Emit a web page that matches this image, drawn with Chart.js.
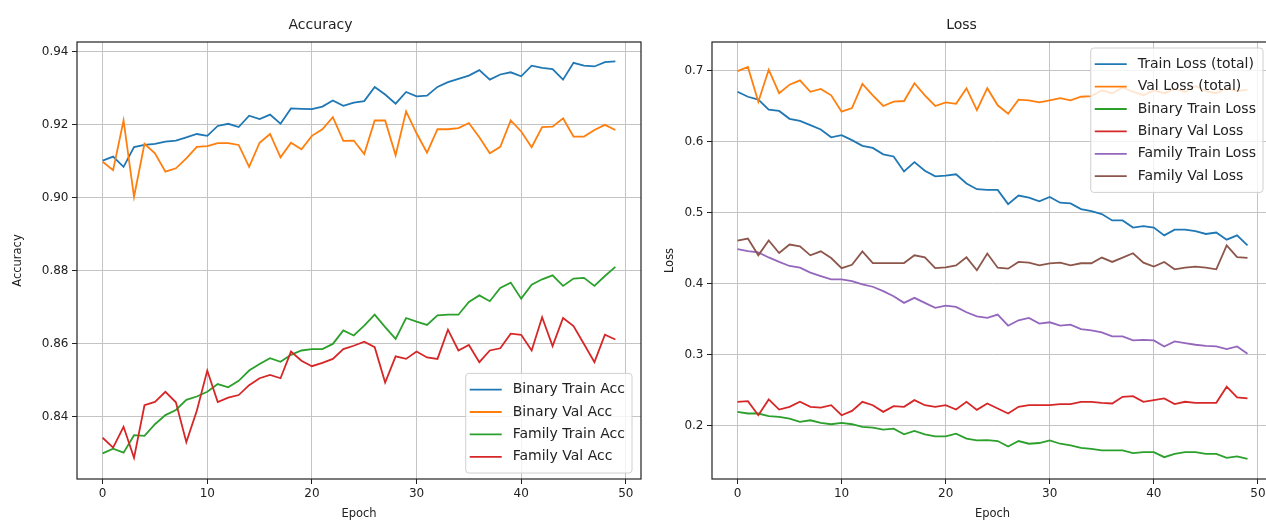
<!DOCTYPE html>
<html>
<head>
<meta charset="utf-8">
<title>Accuracy / Loss</title>
<script src="https://cdn.jsdelivr.net/npm/chart.js"></script>
<style>
  body { margin: 0; background: #fff; overflow: hidden; }
  #wrap { position: relative; width: 1266px; height: 524px; overflow: hidden; }
  canvas { position: absolute; top: 0; }
  #accChart { left: 0; }
  #lossChart { left: 650px; }
</style>
</head>
<body>
<div id="wrap">
  <canvas id="accChart" width="650" height="524"></canvas>
  <canvas id="lossChart" width="630" height="524"></canvas>
</div>
<script>
// --- Data
const epochs = [0, 1, 2, 3, 4, 5, 6, 7, 8, 9, 10, 11, 12, 13, 14, 15, 16, 17, 18, 19,
  20, 21, 22, 23, 24, 25, 26, 27, 28, 29, 30, 31, 32, 33, 34, 35, 36, 37, 38, 39,
  40, 41, 42, 43, 44, 45, 46, 47, 48, 49];
const epochTicks = [0, 10, 20, 30, 40, 50];
const accTicks = [0.84, 0.86, 0.88, 0.90, 0.92, 0.94];
const lossTicks = [0.2, 0.3, 0.4, 0.5, 0.6, 0.7];

const binaryTrainAcc = [0.9102, 0.9113, 0.9085, 0.9139, 0.9145, 0.9148, 0.9154, 0.9157, 0.9166, 0.9175,
  0.9170, 0.9197, 0.9203, 0.9194, 0.9225, 0.9216, 0.9228, 0.9203, 0.9245, 0.9244,
  0.9243, 0.9250, 0.9267, 0.9252, 0.9261, 0.9265, 0.9304, 0.9283, 0.9258, 0.9290,
  0.9278, 0.9280, 0.9304, 0.9317, 0.9326, 0.9335, 0.9350, 0.9324, 0.9338, 0.9344,
  0.9333, 0.9362, 0.9356, 0.9353, 0.9324, 0.9370, 0.9362, 0.9360, 0.9372, 0.9374];
const binaryValAcc = [0.9099, 0.9076, 0.9212, 0.9003, 0.9148, 0.9122, 0.9072, 0.9081, 0.9108, 0.9140,
  0.9142, 0.9150, 0.9150, 0.9145, 0.9085, 0.9151, 0.9175, 0.9111, 0.9151, 0.9133,
  0.9170, 0.9188, 0.9221, 0.9156, 0.9157, 0.9120, 0.9212, 0.9212, 0.9117, 0.9237,
  0.9177, 0.9124, 0.9188, 0.9188, 0.9191, 0.9205, 0.9166, 0.9122, 0.9140, 0.9212,
  0.9182, 0.9139, 0.9194, 0.9195, 0.9218, 0.9168, 0.9168, 0.9186, 0.9200, 0.9186];
const familyTrainAcc = [0.8300, 0.8313, 0.8302, 0.8350, 0.8348, 0.8380, 0.8405, 0.8419, 0.8447, 0.8456,
  0.8469, 0.8490, 0.8481, 0.8499, 0.8527, 0.8545, 0.8561, 0.8551, 0.8570, 0.8582,
  0.8586, 0.8586, 0.8600, 0.8637, 0.8623, 0.8650, 0.8680, 0.8646, 0.8614, 0.8671,
  0.8661, 0.8652, 0.8678, 0.8680, 0.8680, 0.8715, 0.8733, 0.8717, 0.8753, 0.8768,
  0.8724, 0.8762, 0.8777, 0.8788, 0.8759, 0.8779, 0.8781, 0.8759, 0.8786, 0.8811];
const familyValAcc = [0.8343, 0.8316, 0.8373, 0.8288, 0.8432, 0.8441, 0.8469, 0.8440, 0.8331, 0.8417,
  0.8527, 0.8441, 0.8453, 0.8460, 0.8487, 0.8506, 0.8515, 0.8506, 0.8579, 0.8554,
  0.8539, 0.8548, 0.8559, 0.8586, 0.8595, 0.8606, 0.8591, 0.8494, 0.8566, 0.8559,
  0.8579, 0.8563, 0.8559, 0.8639, 0.8582, 0.8597, 0.8550, 0.8582, 0.8588, 0.8628,
  0.8625, 0.8582, 0.8673, 0.8594, 0.8671, 0.8649, 0.8600, 0.8550, 0.8625, 0.8612];

const trainLoss = [0.670, 0.663, 0.659, 0.645, 0.643, 0.632, 0.629, 0.623, 0.617, 0.606,
  0.609, 0.602, 0.594, 0.591, 0.582, 0.579, 0.558, 0.571, 0.559, 0.551,
  0.552, 0.554, 0.541, 0.533, 0.532, 0.532, 0.512, 0.524, 0.521, 0.516,
  0.522, 0.514, 0.513, 0.505, 0.502, 0.498, 0.489, 0.489, 0.479, 0.481,
  0.479, 0.468, 0.476, 0.476, 0.474, 0.470, 0.472, 0.462, 0.468, 0.454];
const valLoss = [0.699, 0.705, 0.656, 0.701, 0.668, 0.680, 0.686, 0.670, 0.674, 0.665,
  0.642, 0.647, 0.681, 0.665, 0.650, 0.656, 0.657, 0.682, 0.665, 0.650,
  0.655, 0.653, 0.675, 0.644, 0.675, 0.651, 0.639, 0.659, 0.658, 0.655,
  0.658, 0.661, 0.658, 0.663, 0.664, 0.672, 0.668, 0.676, 0.670, 0.665,
  0.672, 0.668, 0.674, 0.670, 0.678, 0.671, 0.668, 0.675, 0.671, 0.673];
const binaryTrainLoss = [0.2198, 0.2175, 0.2175, 0.2137, 0.2127, 0.2104, 0.2057, 0.2080, 0.2042, 0.2024,
  0.2042, 0.2024, 0.1986, 0.1976, 0.1948, 0.1962, 0.1882, 0.1929, 0.1882, 0.1854,
  0.1854, 0.1891, 0.1821, 0.1797, 0.1802, 0.1788, 0.1712, 0.1788, 0.1750, 0.1760,
  0.1797, 0.1750, 0.1726, 0.1693, 0.1679, 0.1656, 0.1656, 0.1656, 0.1618, 0.1632,
  0.1632, 0.1561, 0.1608, 0.1632, 0.1632, 0.1608, 0.1608, 0.1552, 0.1571, 0.1538];
const binaryValLoss = [0.2340, 0.2349, 0.2151, 0.2373, 0.2231, 0.2269, 0.2340, 0.2269, 0.2259, 0.2292,
  0.2151, 0.2212, 0.2340, 0.2292, 0.2198, 0.2278, 0.2269, 0.2363, 0.2292, 0.2269,
  0.2292, 0.2231, 0.2340, 0.2226, 0.2316, 0.2245, 0.2175, 0.2269, 0.2292, 0.2292,
  0.2292, 0.2307, 0.2307, 0.2340, 0.2340, 0.2325, 0.2316, 0.2410, 0.2420, 0.2340,
  0.2363, 0.2387, 0.2307, 0.2340, 0.2325, 0.2325, 0.2325, 0.2552, 0.2401, 0.2387];
const familyTrainLoss = [0.4486, 0.4460, 0.4440, 0.4370, 0.4307, 0.4250, 0.4226, 0.4156, 0.4108, 0.4061,
  0.4061, 0.4038, 0.3990, 0.3958, 0.3896, 0.3825, 0.3731, 0.3802, 0.3731, 0.3660,
  0.3693, 0.3675, 0.3599, 0.3542, 0.3519, 0.3566, 0.3410, 0.3486, 0.3519, 0.3439,
  0.3458, 0.3410, 0.3425, 0.3363, 0.3344, 0.3316, 0.3259, 0.3259, 0.3203, 0.3212,
  0.3203, 0.3118, 0.3189, 0.3165, 0.3142, 0.3127, 0.3118, 0.3080, 0.3118, 0.3014];
const familyValLoss = [0.4608, 0.4636, 0.4400, 0.4608, 0.4433, 0.4551, 0.4527, 0.4400, 0.4456, 0.4362,
  0.4220, 0.4267, 0.4456, 0.4291, 0.4291, 0.4291, 0.4291, 0.4400, 0.4371, 0.4220,
  0.4229, 0.4258, 0.4371, 0.4190, 0.4425, 0.4226, 0.4212, 0.4307, 0.4297, 0.4259,
  0.4288, 0.4297, 0.4259, 0.4288, 0.4288, 0.4368, 0.4307, 0.4368, 0.4429, 0.4297,
  0.4241, 0.4307, 0.4203, 0.4226, 0.4241, 0.4226, 0.4203, 0.4540, 0.4375, 0.4365];

// matplotlib tab10 colours
const C = { blue: '#1f77b4', orange: '#ff7f0e', green: '#2ca02c', red: '#d62728', purple: '#9467bd', brown: '#8c564b' };

Chart.defaults.font.family = '"DejaVu Sans", sans-serif';
Chart.defaults.color = '#222';

// frame on all four sides + a matplotlib-like legend drawn inside the axes
const axesDecor = {
  id: 'axesDecor',
  afterDatasetsDraw(chart, args, opts) {
    const ctx = chart.ctx, a = chart.chartArea;
    ctx.save();
    ctx.strokeStyle = '#222';
    ctx.lineWidth = 1.2;
    ctx.strokeRect(a.left, a.top, a.right - a.left, a.bottom - a.top);

    const sets = chart.data.datasets;
    ctx.font = opts.fontSize + 'px "DejaVu Sans"';
    let textW = 0;
    sets.forEach(function (ds) { textW = Math.max(textW, ctx.measureText(ds.label).width); });
    const rowH = 22.4, pad = 5, handle = 32;
    const w = 4 + handle + 11 + textW + 7;
    const h = sets.length * rowH + 2 * pad;
    const x = a.right - opts.insetX - w;
    const y = opts.corner === 'bottom' ? a.bottom - opts.insetY - h : a.top + opts.insetY;

    ctx.beginPath();
    if (ctx.roundRect) ctx.roundRect(x, y, w, h, 3); else ctx.rect(x, y, w, h);
    ctx.fillStyle = 'rgba(255,255,255,0.8)';
    ctx.fill();
    ctx.strokeStyle = '#d0d0d0';
    ctx.lineWidth = 1;
    ctx.stroke();

    ctx.textBaseline = 'middle';
    sets.forEach(function (ds, i) {
      const cy = y + pad + rowH * (i + 0.5);
      ctx.strokeStyle = ds.borderColor;
      ctx.lineWidth = ds.borderWidth;
      ctx.beginPath();
      ctx.moveTo(x + 4, cy);
      ctx.lineTo(x + 4 + handle, cy);
      ctx.stroke();
      ctx.fillStyle = '#222';
      ctx.fillText(ds.label, x + 4 + handle + 11, cy);
    });
    ctx.restore();
  }
};

function makeChart(id, title, yTitle, yMin, yMax, yTicks, decimals, series, yWidth, yTitlePad, legend) {
  const n = series.length;
  return new Chart(document.getElementById(id), {
    type: 'line',
    data: {
      datasets: series.map(function (s, i) {
        return {
          label: s.label,
          data: s.data.map(function (v, k) { return { x: epochs[k], y: v }; }),
          borderColor: s.color,
          backgroundColor: s.color,
          borderWidth: 1.8,
          pointRadius: 0,
          tension: 0,
          order: n - i
        };
      })
    },
    plugins: [axesDecor],
    options: {
      responsive: false,
      animation: false,
      layout: { padding: { left: 0, right: id === 'accChart' ? 9 : 7, top: 0, bottom: 0 } },
      plugins: {
        legend: { display: false },
        tooltip: { enabled: false },
        title: {
          display: true, text: title, color: '#222',
          font: { size: 14, weight: 'normal' },
          padding: { top: 17, bottom: 8.2 }
        },
        axesDecor: legend
      },
      scales: {
        x: {
          type: 'linear', min: -2.45, max: 51.45,
          afterBuildTicks: function (scale) { scale.ticks = epochTicks.map(function (v) { return { value: v }; }); },
          afterFit: function (scale) { scale.height = 45; },
          border: { display: false },
          grid: { color: '#c4c4c4', lineWidth: 1, tickLength: 5, tickColor: '#222', tickWidth: 1 },
          ticks: { font: { size: 12 }, padding: 3, maxRotation: 0, autoSkip: false },
          title: { display: true, text: 'Epoch', font: { size: 11.5 }, padding: { top: 0, bottom: 3 } }
        },
        y: {
          min: yMin, max: yMax,
          afterBuildTicks: function (scale) { scale.ticks = yTicks.map(function (v) { return { value: v }; }); },
          afterFit: function (scale) { scale.width = yWidth; },
          border: { display: false },
          grid: { color: '#c4c4c4', lineWidth: 1, tickLength: 5, tickColor: '#222', tickWidth: 1 },
          ticks: {
            font: { size: 12 }, padding: 3.5, autoSkip: false,
            callback: function (v) { return Number(v).toFixed(decimals); }
          },
          title: { display: true, text: yTitle, font: { size: 11.5 }, padding: { top: yTitlePad, bottom: 0 } }
        }
      }
    }
  });
}

makeChart('accChart', 'Accuracy', 'Accuracy', 0.8230, 0.9427, accTicks, 2, [
  { label: 'Binary Train Acc', data: binaryTrainAcc, color: C.blue },
  { label: 'Binary Val Acc', data: binaryValAcc, color: C.orange },
  { label: 'Family Train Acc', data: familyTrainAcc, color: C.green },
  { label: 'Family Val Acc', data: familyValAcc, color: C.red }
], 77, 11, { corner: 'bottom', insetX: 9, insetY: 6, fontSize: 14 });

makeChart('lossChart', 'Loss', 'Loss', 0.1254, 0.7400, lossTicks, 1, [
  { label: 'Train Loss (total)', data: trainLoss, color: C.blue },
  { label: 'Val Loss (total)', data: valLoss, color: C.orange },
  { label: 'Binary Train Loss', data: binaryTrainLoss, color: C.green },
  { label: 'Binary Val Loss', data: binaryValLoss, color: C.red },
  { label: 'Family Train Loss', data: familyTrainLoss, color: C.purple },
  { label: 'Family Val Loss', data: familyValLoss, color: C.brown }
], 62, 13, { corner: 'top', insetX: 10, insetY: 6, fontSize: 14 });
</script>
</body>
</html>
